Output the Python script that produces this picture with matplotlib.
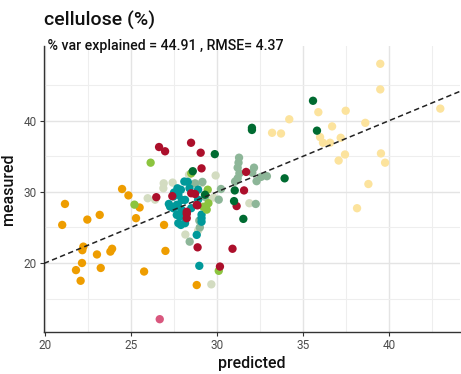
import matplotlib.pyplot as plt
import numpy as np

plt.rcParams['font.family'] = ['Roboto', 'DejaVu Sans']

orange_x = [21.16, 21.0, 22.46, 23.18, 25.29, 25.5, 26.92, 22.23, 22.17, 23.02, 23.8, 23.9,
            22.15, 21.8, 23.24, 22.07, 25.76, 27.0, 28.82, 24.48, 24.85]
orange_y = [28.3, 25.35, 26.1, 26.76, 26.3, 27.8, 25.35, 22.3, 21.8, 21.2, 21.6, 22.0,
            20.0, 19.0, 19.3, 17.5, 18.8, 21.7, 16.9, 30.4, 29.5]

yellow_x = [39.49, 39.49, 42.98, 35.89, 37.48, 34.2, 38.62, 33.2, 33.72, 36.69, 35.99, 36.16,
            36.57, 37.19, 37.07, 37.44, 39.53, 39.77, 38.8, 38.14]
yellow_y = [48.0, 44.4, 41.7, 41.2, 41.4, 40.2, 39.7, 38.3, 38.2, 39.2, 37.7, 36.9,
            36.9, 37.6, 34.4, 35.25, 35.4, 34.1, 31.1, 27.7]

teal_x = [27.46, 27.75, 27.95, 28.14, 27.66, 27.27, 27.46, 27.75, 27.95, 27.66, 27.85, 28.10,
          27.75, 27.9, 28.14, 28.1, 28.3, 27.7, 27.5, 27.9, 28.4, 28.9, 28.9, 29.1, 29.1,
          28.82, 28.97, 29.1, 28.5, 27.2]
teal_y = [29.34, 29.58, 28.87, 28.87, 28.17, 27.93, 27.7, 27.93, 27.46, 26.76, 26.52, 26.62,
          25.6, 25.35, 25.6, 31.45, 31.4, 30.5, 29.9, 30.3, 30.5, 30.3, 28.9, 26.3, 25.8,
          23.95, 19.6, 26.8, 27.7, 28.3]

greygreen_x = [31.28, 31.25, 31.2, 31.3, 31.2, 31.05, 32.15, 32.05, 32.3, 32.56, 32.9, 32.25,
               29.15, 28.72, 30.23, 28.41, 28.97, 29.0, 30.1, 29.3]
greygreen_y = [34.8, 34.1, 33.4, 32.6, 31.9, 31.45, 33.4, 32.7, 31.5, 32.1, 32.2, 28.3,
               31.4, 31.2, 30.4, 23.0, 25.96, 25.0, 28.9, 29.3]

beige_x = [29.92, 27.42, 26.88, 26.4, 28.37, 26.9, 29.1, 31.88, 28.16, 28.9, 29.67, 25.97,
           29.5, 29.8]
beige_y = [32.3, 31.3, 30.5, 28.9, 32.4, 31.2, 31.2, 28.4, 24.0, 24.55, 17.0, 29.1,
           28.9, 29.2]

lightgreen_x = [26.14, 25.2, 29.46, 30.1, 29.4, 29.2, 29.5, 28.5]
lightgreen_y = [34.1, 28.2, 30.3, 18.9, 27.5, 27.9, 28.4, 32.6]

red_x = [28.49, 26.63, 26.98, 29.05, 29.1, 31.69, 31.57, 31.14, 26.47, 28.72, 28.86, 28.24,
         28.24, 28.24, 28.87, 30.9, 30.17, 27.4, 28.5, 28.82]
red_y = [36.9, 36.3, 35.7, 35.5, 33.3, 32.8, 30.2, 28.0, 29.25, 29.7, 28.1, 26.9,
         26.3, 27.2, 22.2, 22.0, 19.5, 29.4, 29.8, 28.17]

darkgreen_x = [35.58, 32.03, 32.03, 35.81, 33.93, 31.03, 30.99, 31.53, 29.87, 28.59, 29.3]
darkgreen_y = [42.8, 39.0, 38.7, 38.6, 31.9, 30.2, 28.7, 26.2, 35.3, 32.9, 29.6]

pink_x = [26.67]
pink_y = [12.1]

groups = [
    (orange_x, orange_y, '#EE9D00'),
    (yellow_x, yellow_y, '#FCE39D'),
    (beige_x, beige_y, '#D3DCC1'),
    (greygreen_x, greygreen_y, '#8DB698'),
    (teal_x, teal_y, '#00999A'),
    (lightgreen_x, lightgreen_y, '#8CC43F'),
    (red_x, red_y, '#AC0F2B'),
    (darkgreen_x, darkgreen_y, '#006B31'),
    (pink_x, pink_y, '#D9577E'),
]

fig = plt.figure(figsize=(4.61, 3.74), dpi=100)
ax = fig.add_axes([0.0954, 0.1123, 0.9026, 0.7647])

for gx, gy, col in groups:
    ax.scatter(gx, gy, s=36, color=col, edgecolors='none', zorder=3)

# 1:1 line
xl = np.array([19.94, 44.13])
ax.plot(xl, xl, ls=(0, (3.5, 2.2)), color='#222222', lw=1.1, zorder=4)

ax.set_xlim(19.94, 44.13)
ax.set_ylim(10.3, 50.5)
ax.set_xticks([20, 25, 30, 35, 40])
ax.set_yticks([20, 30, 40])
ax.set_xticks([22.5, 27.5, 32.5, 37.5, 42.5], minor=True)
ax.set_yticks([15, 25, 35, 45], minor=True)
ax.grid(True, which='major', color='#E4E4E4', lw=1.0, zorder=0)
ax.grid(True, which='minor', color='#EEEEEE', lw=0.8, zorder=0)
ax.set_axisbelow(True)

for s in ['top', 'right']:
    ax.spines[s].set_visible(False)
for s in ['left', 'bottom']:
    ax.spines[s].set_color('#333333')
    ax.spines[s].set_linewidth(1.0)

ax.tick_params(which='major', length=3, color='#333333', labelsize=8.5,
               labelcolor='#4D4D4D', pad=2)
ax.tick_params(which='minor', length=0)

ax.set_xlabel('predicted', fontsize=11.5, fontweight='medium', color='#111111', labelpad=3)
ax.set_ylabel('measured', fontsize=11.5, fontweight='medium', color='#111111', labelpad=6)

fig.text(0.095, 0.945, 'cellulose (%)', fontsize=14, fontweight='medium',
         color='#111111', va='center', ha='left')
fig.text(0.095, 0.877, ' % var explained = 44.91 , RMSE= 4.37', fontsize=10.2,
         fontweight='medium', color='#111111', va='center', ha='left')

fig.savefig('out.png', dpi=100)
